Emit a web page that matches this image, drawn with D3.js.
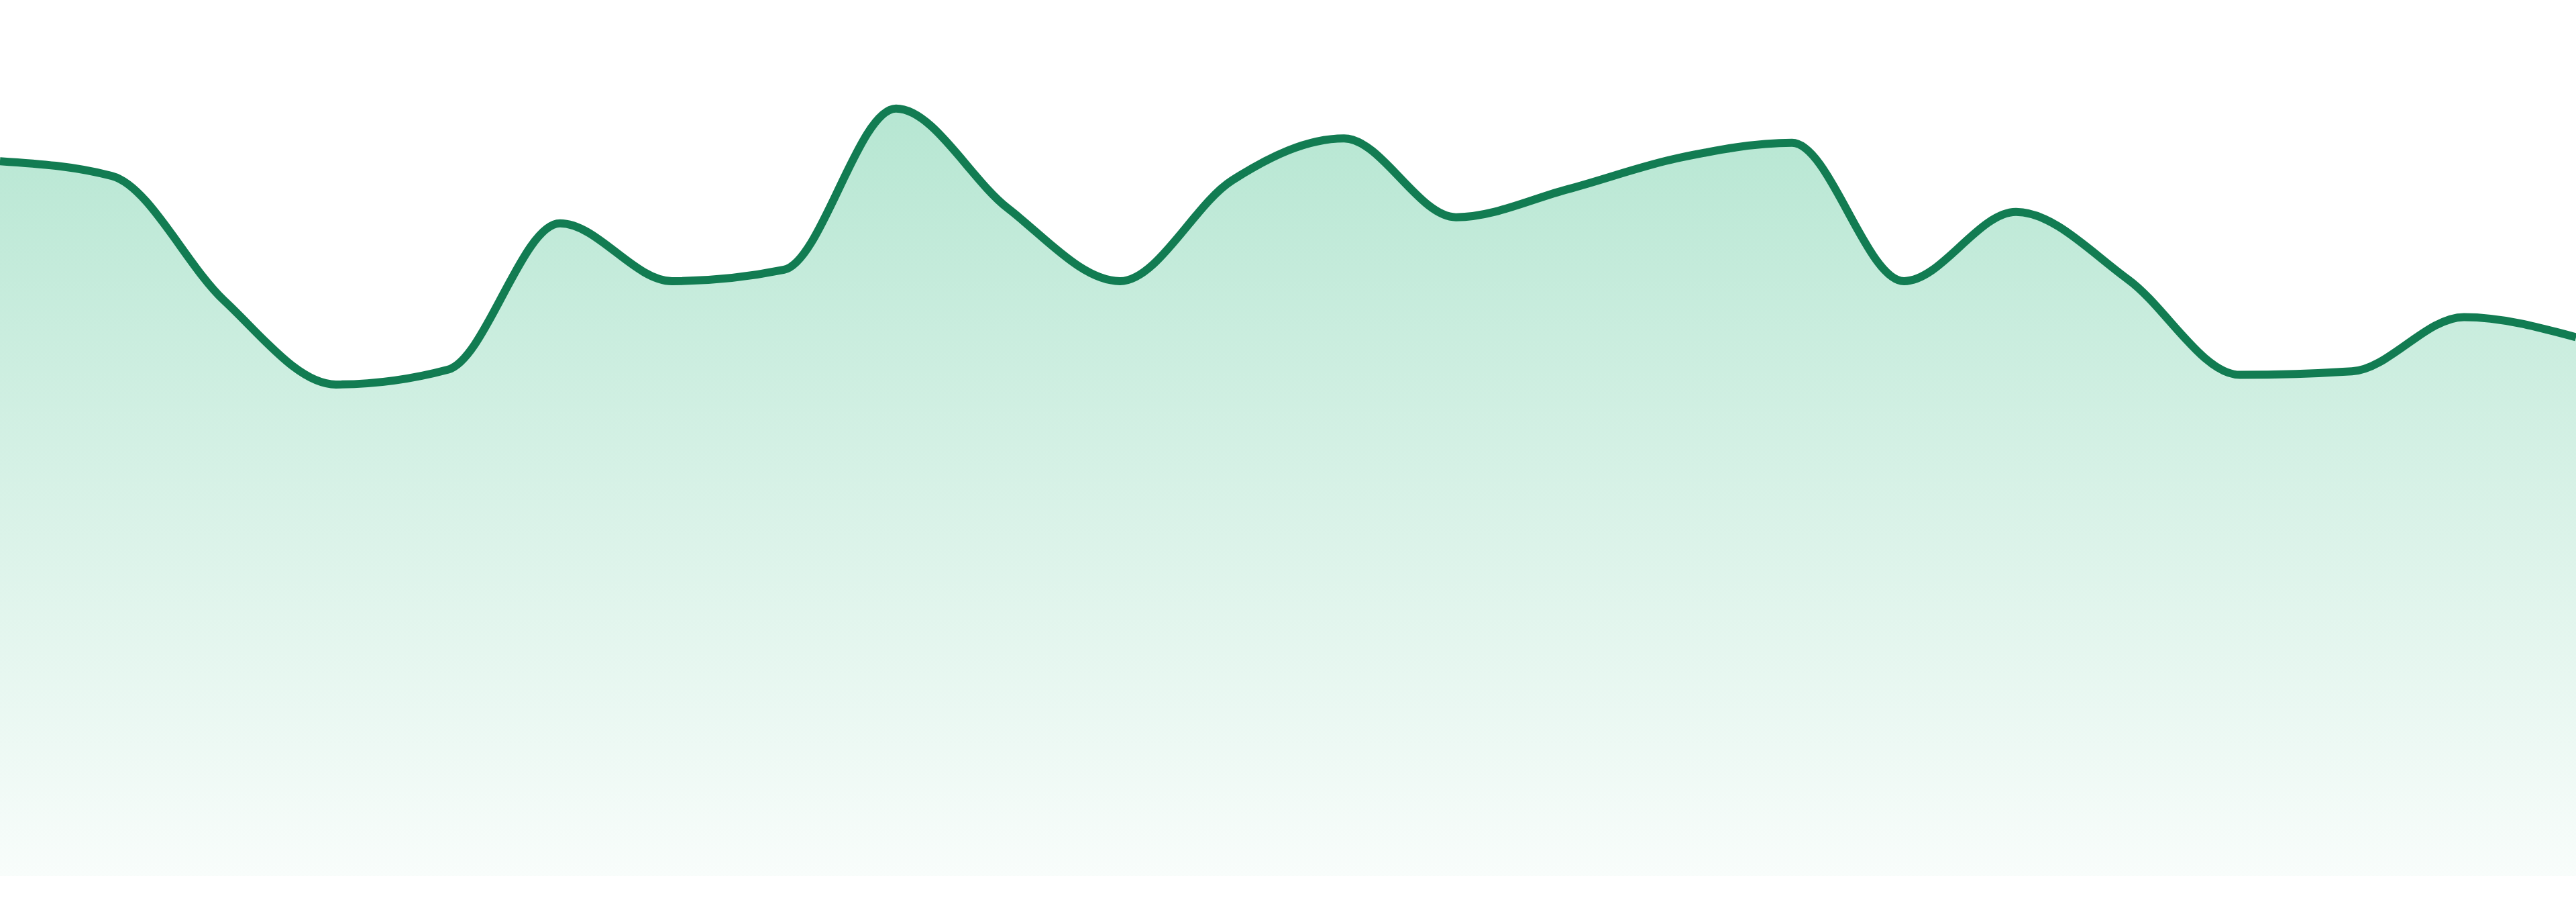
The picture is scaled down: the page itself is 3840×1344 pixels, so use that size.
<!DOCTYPE html>
<html lang="en">
<head>
  <meta charset="UTF-8">
  <title>Area Trend</title>
  <script src="https://d3js.org/d3.v7.min.js"></script>
  <style>
    body {
      margin: 0;
      background: #fff;
    }
    svg {
      display: block;
    }
  </style>
</head>
<body>
  <svg class="chart"></svg>

  <script>
    // values (no axes shown, 0-100 scale)
    const periods = d3.range(24);
    const values = [81.6, 79.9, 65.7, 56.1, 57.8, 74.5, 67.9, 69.2, 87.6, 76.2,
                    67.9, 79.4, 84.2, 75.2, 78.4, 82.0, 83.7, 67.9, 75.8, 68.1,
                    57.2, 57.6, 63.8, 61.5];

    const data = periods.map((p, i) => ({ period: p, value: values[i] }));

    const width = 3840,
          height = 1344,
          baseline = 1305;

    const svg = d3.select("svg")
      .attr("width", width)
      .attr("height", height);

    const x = d3.scaleLinear()
      .domain(d3.extent(periods))
      .range([0, width]);

    const y = d3.scaleLinear()
      .domain([0, 100])
      .range([baseline, 0]);

    // gradient fill under the line
    const grad = svg.append("defs")
      .append("linearGradient")
        .attr("id", "fillGrad")
        .attr("x1", 0).attr("y1", 0)
        .attr("x2", 0).attr("y2", 1);
    grad.append("stop").attr("offset", "0%")
      .attr("stop-color", "#1cb273").attr("stop-opacity", 0.32);
    grad.append("stop").attr("offset", "100%")
      .attr("stop-color", "#1cb273").attr("stop-opacity", 0.03);

    const area = d3.area()
      .curve(d3.curveMonotoneX)
      .x(d => x(d.period))
      .y0(y(0))
      .y1(d => y(d.value));

    const line = d3.line()
      .curve(d3.curveMonotoneX)
      .x(d => x(d.period))
      .y(d => y(d.value));

    svg.append("path")
      .datum(data)
      .attr("fill", "url(#fillGrad)")
      .attr("d", area);

    svg.append("path")
      .datum(data)
      .attr("fill", "none")
      .attr("stroke", "#127c52")
      .attr("stroke-width", 12)
      .attr("stroke-linejoin", "round")
      .attr("d", line);
  </script>
</body>
</html>
